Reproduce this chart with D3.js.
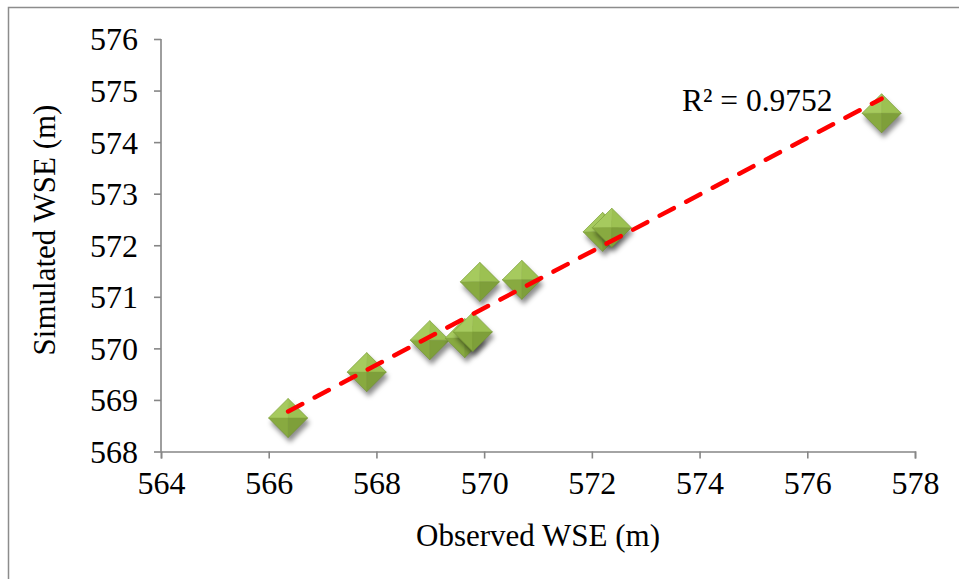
<!DOCTYPE html>
<html>
<head>
<meta charset="utf-8">
<script src="https://cdn.jsdelivr.net/npm/d3@7"></script>
<style>
  html, body { margin: 0; padding: 0; background: #fff; }
  svg { display: block; }
  text { font-family: "Liberation Serif", "Times New Roman", serif; fill: #000; }
</style>
</head>
<body>
<svg id="chart" width="959" height="579"></svg>
<script>
// Observed vs simulated water surface elevation (m)
const observed  = [566.36, 567.82, 568.99, 569.64, 569.79, 569.92, 570.70, 572.20, 572.37, 577.38];
const simulated = [568.65, 569.54, 570.16, 570.20, 570.32, 571.29, 571.33, 572.26, 572.34, 574.56];
const xTicks = [564, 566, 568, 570, 572, 574, 576, 578];
const yTicks = [568, 569, 570, 571, 572, 573, 574, 575, 576];
const r2Label = "R² = 0.9752";

const svg = d3.select("#chart");
const W = 959, H = 579;

// outer chart frame
svg.append("rect").attr("x", 8.5).attr("y", 7.5).attr("width", W + 20).attr("height", H + 20)
  .attr("fill", "#fff").attr("stroke", "#8c8c8c").attr("stroke-width", 1.5);

const x = d3.scaleLinear().domain([564, 578]).range([161, 915]);
const y = d3.scaleLinear().domain([568, 576]).range([451.5, 39]);

const axisColor = "#868686";
const tickFont = "32px";

// axes
const gx = svg.append("g").attr("transform", `translate(0,${y(568)})`)
  .call(d3.axisBottom(x).tickValues(xTicks).tickSize(7).tickPadding(10).tickFormat(d3.format("d")));
const gy = svg.append("g").attr("transform", `translate(${x(564)},0)`)
  .call(d3.axisLeft(y).tickValues(yTicks).tickSize(7).tickPadding(16).tickFormat(d3.format("d")));
[gx, gy].forEach(g => {
  g.select(".domain").attr("stroke", axisColor).attr("stroke-width", 1.6);
  g.selectAll(".tick line").attr("stroke", axisColor).attr("stroke-width", 1.6);
  g.selectAll(".tick text").style("font-family", '"Liberation Serif", "Times New Roman", serif')
    .style("font-size", tickFont).attr("fill", "#000");
});
gy.select(".domain").attr("d", `M0,${y(576)}V${y(568)}`);
gy.selectAll(".tick text").attr("dy", "0.34em");
gx.selectAll(".tick text").attr("dy", "0.8em");

// axis titles
svg.append("text").attr("x", 538).attr("y", 546).attr("text-anchor", "middle")
  .style("font-size", "31px").text("Observed WSE (m)");
svg.append("text").attr("transform", "translate(55,230) rotate(-90)").attr("text-anchor", "middle")
  .style("font-size", "31px").text("Simulated WSE (m)");

// marker definitions
const defs = svg.append("defs");
const sh = defs.append("filter").attr("id", "shadow").attr("x", "-50%").attr("y", "-50%")
  .attr("width", "200%").attr("height", "200%");
sh.append("feGaussianBlur").attr("stdDeviation", 2.6);

const pts = observed.map((v, i) => ({ x: v, y: simulated[i] }));
const s = 19.5;

const mk = svg.append("g");
pts.forEach(p => {
  const cx = x(p.x), cy = y(p.y);
  const g = mk.append("g").attr("transform", `translate(${cx},${cy})`);
  g.append("path").attr("d", `M0,${-s}L${s},0L0,${s}L${-s},0Z`)
    .attr("transform", "translate(2,5)").attr("fill", "rgba(0,0,0,0.45)").attr("filter", "url(#shadow)");
  // four facets of the pyramid-shaped diamond
  const facets = [
    { d: `M0,0L0,${-s}L${-s},0Z`, c: "#a6ca5e" },
    { d: `M0,0L0,${-s}L${s},0Z`,  c: "#9cc152" },
    { d: `M0,0L${-s},0L0,${s}Z`,  c: "#88aa40" },
    { d: `M0,0L${s},0L0,${s}Z`,   c: "#7e9f3a" }
  ];
  facets.forEach(f => g.append("path").attr("d", f.d).attr("fill", f.c)
    .attr("stroke", f.c).attr("stroke-width", 0.5));
  g.append("path").attr("d", `M0,${-s}L${s},0L0,${s}L${-s},0Z`)
    .attr("fill", "none").attr("stroke", "#6e8f30").attr("stroke-width", 0.8).attr("opacity", 0.6);
});

// least-squares trendline across the observed range
const mx = d3.mean(pts, d => d.x), my = d3.mean(pts, d => d.y);
const slope = d3.sum(pts, d => (d.x - mx) * (d.y - my)) / d3.sum(pts, d => (d.x - mx) ** 2);
const icpt = my - slope * mx;
const x0 = d3.min(observed), x1 = d3.max(observed);
svg.append("line")
  .attr("x1", x(x0)).attr("y1", y(icpt + slope * x0))
  .attr("x2", x(x1)).attr("y2", y(icpt + slope * x1))
  .attr("stroke", "#ff0000").attr("stroke-width", 4.5)
  .attr("stroke-linecap", "round").attr("stroke-dasharray", "16 14");

svg.append("text").attr("x", 682).attr("y", 111).style("font-size", "31.5px").text(r2Label);
</script>
</body>
</html>
